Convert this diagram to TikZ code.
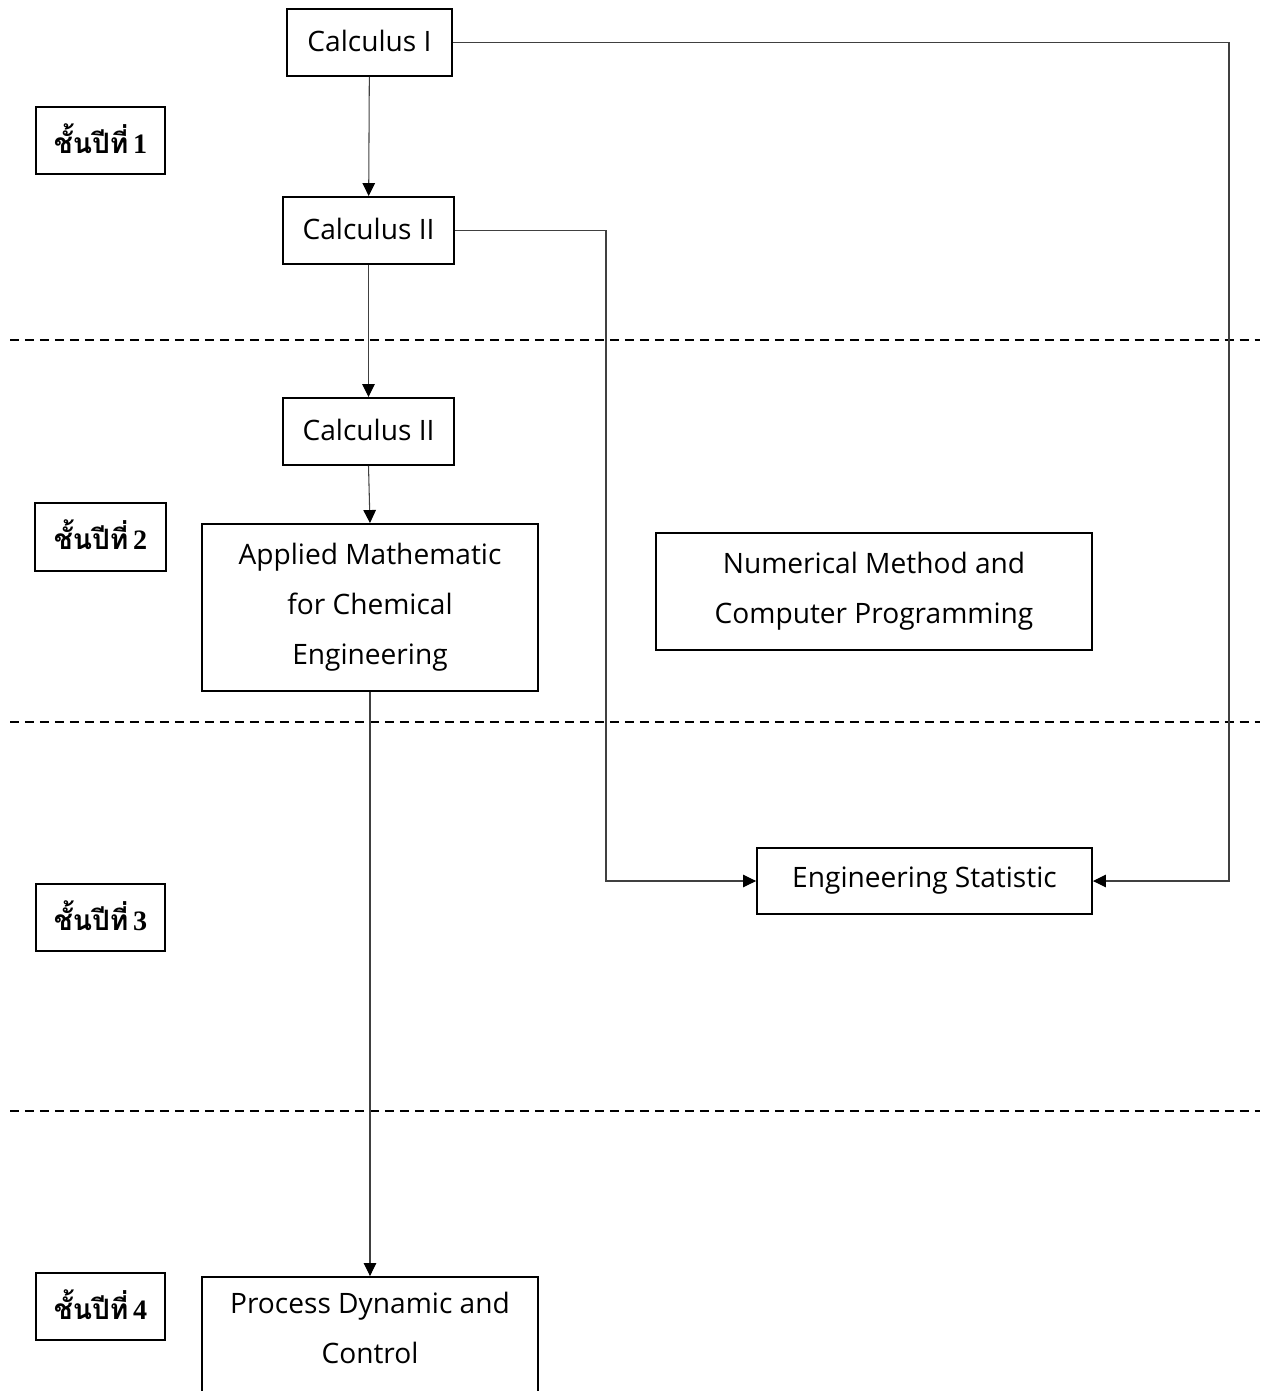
\documentclass[tikz,border=0pt]{standalone}
\usepackage{fontspec}
\setmainfont{Open Sans}
\newfontfamily\thaifont[Script=Thai]{Loma}
\newfontfamily\numfont{Liberation Serif}
\usetikzlibrary{arrows.meta}

\tikzset{
  course/.style={draw=black, line width=1.1pt, inner sep=0pt, align=center,
    font=\fontsize{16pt}{28.5pt}\selectfont},
  oneline/.style={course, text depth=0.02cm},
  yearbox/.style={draw=black, line width=1.1pt, inner sep=0pt,
    minimum width=2.58cm, minimum height=1.34cm,
    font=\fontsize{16pt}{20pt}\selectfont\bfseries},
  link/.style={draw=black!75, line width=0.6pt},
  arrowlink/.style={link, -{Triangle[length=0.26cm,width=0.25cm,color=black]}},
  divider/.style={draw=black, line width=0.8pt, dash pattern=on 0.18cm off 0.12cm},
}

\newcommand{\yearlabel}[1]{\raisebox{2.5pt}{{\thaifont ชั้นปีที่}\,{\numfont #1}}}

\begin{document}
\begin{tikzpicture}[x=0.02cm, y=-0.02cm]
  \useasboundingbox (0,0) rectangle (1260,1391);
  \clip (0,0) rectangle (1260,1391);

  % year dividers
  \draw[divider] (10,340) -- (1260,340);
  \draw[divider] (10,722) -- (1260,722);
  \draw[divider] (10,1111) -- (1260,1111);

  % year labels
  \node[yearbox] (y1) at (100.5,140.5) {\yearlabel{1}};
  \node[yearbox, minimum width=2.62cm, minimum height=1.36cm] (y2) at (100.5,537) {\yearlabel{2}};
  \node[yearbox] (y3) at (100.5,917.5) {\yearlabel{3}};
  \node[yearbox] (y4) at (100.5,1306.5) {\yearlabel{4}};

  % courses
  \node[course, minimum width=3.3cm, minimum height=1.34cm] (c1) at (369.5,42.5) {\raisebox{1.5pt}{Calculus I}};
  \node[course, minimum width=3.42cm, minimum height=1.34cm] (c2a) at (368.5,230.5) {\raisebox{1.5pt}{Calculus II}};
  \node[course, minimum width=3.42cm, minimum height=1.34cm] (c2b) at (368.5,431.5) {\raisebox{1.5pt}{Calculus II}};
  \node[course, minimum width=6.72cm, minimum height=3.34cm] (am) at (370,607.5)
    {Applied Mathematic\\for Chemical\\Engineering};
  \node[course, minimum width=8.72cm, minimum height=2.34cm] (nm) at (874,591.5)
    {Numerical Method and\\Computer Programming};
  \node[course, minimum width=6.7cm, minimum height=1.32cm] (es) at (924.5,881)
    {\raisebox{1.5pt}{Engineering Statistic}};
  \node[course, minimum width=6.72cm, minimum height=3.34cm] (pd) at (370,1360.5)
    {Process Dynamic and\\Control\\\strut};

  % routing points
  \coordinate (r1) at (1229,42.5);
  \coordinate (r2) at (606,230.5);

  % prerequisites
  \draw[arrowlink] (c1) -- (c2a);
  \draw[arrowlink] (c2a) -- (c2b);
  \draw[arrowlink] (c2b.south) -- (am.north);
  \draw[arrowlink] (am.south) -- (pd.north);
  \draw[arrowlink] (c1.east) -- (r1) |- (es.east);
  \draw[arrowlink] (c2a.east) -- (r2) |- (es.west);
\end{tikzpicture}
\end{document}
